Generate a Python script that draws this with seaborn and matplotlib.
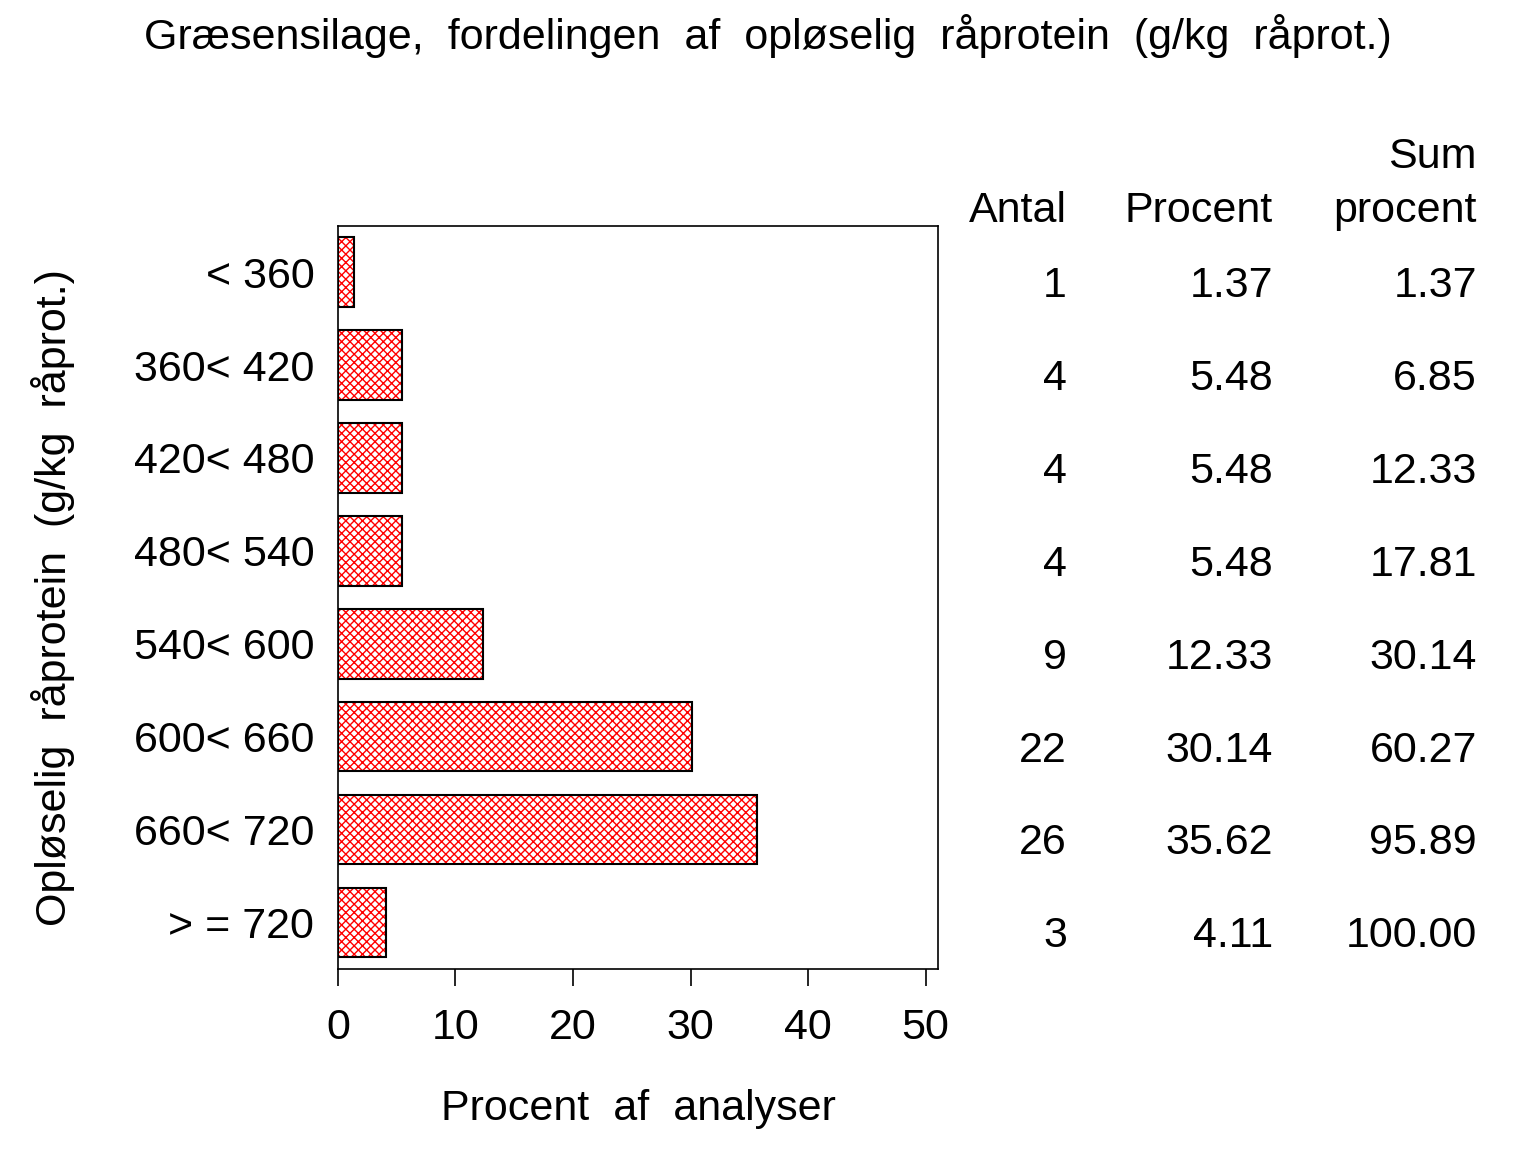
import matplotlib
matplotlib.use('Agg')
import matplotlib.pyplot as plt
import matplotlib.transforms as mtransforms
import seaborn as sns
import pandas as pd

# data
klasser = ['< 360', '360< 420', '420< 480', '480< 540', '540< 600',
           '600< 660', '660< 720', '> = 720']
antal = [1, 4, 4, 4, 9, 22, 26, 3]
procent = [1.37, 5.48, 5.48, 5.48, 12.33, 30.14, 35.62, 4.11]
sum_procent = [1.37, 6.85, 12.33, 17.81, 30.14, 60.27, 95.89, 100.00]

df = pd.DataFrame({'klasse': klasser, 'procent': procent})

sns.set_style('white')
plt.rcParams['font.family'] = ['Liberation Sans', 'DejaVu Sans']
plt.rcParams['hatch.linewidth'] = 1.0
for k in ['text.color', 'axes.labelcolor', 'xtick.color', 'ytick.color']:
    plt.rcParams[k] = 'black'

fs = 31

fig = plt.figure(figsize=(15.36, 11.52), dpi=100)
ax = fig.add_axes([0.220, 0.159, 0.391, 0.645])

# hatched fill in red, then black outline on top
sns.barplot(data=df, x='procent', y='klasse', orient='h', color='white',
            edgecolor='red', linewidth=0, hatch='xxxx', width=0.75, ax=ax)
sns.barplot(data=df, x='procent', y='klasse', orient='h', fill=False,
            edgecolor='black', linewidth=1.5, width=0.75, ax=ax)

ax.set_xlim(0, 51.1)
ax.set_ylim(7.5, -0.5)
ax.set_xticks([0, 10, 20, 30, 40, 50])
ax.tick_params(axis='x', direction='out', length=12, width=1.2, pad=16,
               labelsize=fs, bottom=True)
ax.tick_params(axis='y', length=0, pad=17, labelsize=fs)
for s in ax.spines.values():
    s.set_linewidth(1.2)
    s.set_color('black')

ax.set_xlabel('Procent  af  analyser', fontsize=fs, labelpad=30)
ax.set_ylabel('Opløselig  råprotein  (g/kg  råprot.)', fontsize=fs, labelpad=42)

fig.suptitle('Græsensilage,  fordelingen  af  opløselig  råprotein  (g/kg  råprot.)',
             fontsize=fs, x=0.5, y=0.988)

# table to the right
trans = mtransforms.blended_transform_factory(fig.transFigure, ax.transData)
cols = [(1067 / 1536, antal, '{:d}'),
        (1273 / 1536, procent, '{:.2f}'),
        (1477 / 1536, sum_procent, '{:.2f}')]
for xpos, vals, fmt in cols:
    for i, v in enumerate(vals):
        ax.text(xpos, i + 0.15, fmt.format(v), transform=trans, ha='right',
                va='center', fontsize=fs, clip_on=False)

fig.text(1067 / 1536, 1 - 211 / 1152, 'Antal', ha='right', va='center', fontsize=fs)
fig.text(1273 / 1536, 1 - 211 / 1152, 'Procent', ha='right', va='center', fontsize=fs)
fig.text(1477 / 1536, 1 - 157 / 1152, 'Sum', ha='right', va='center', fontsize=fs)
fig.text(1477 / 1536, 1 - 211 / 1152, 'procent', ha='right', va='center', fontsize=fs)

fig.savefig('out.png', dpi=100)
